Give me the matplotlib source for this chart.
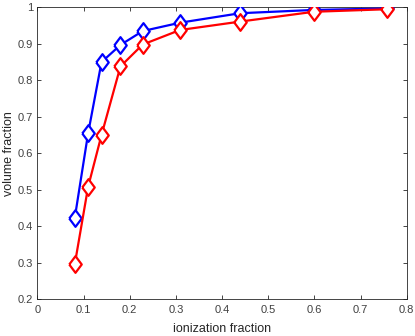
import matplotlib
matplotlib.use("Agg")
import matplotlib.pyplot as plt

x = [0.081, 0.11, 0.139, 0.18, 0.228, 0.309, 0.439, 0.599, 0.758]
blue_y = [0.422, 0.655, 0.850, 0.897, 0.935, 0.958, 0.984, 0.993, 0.997]
red_y = [0.295, 0.508, 0.650, 0.838, 0.898, 0.938, 0.961, 0.988, 0.995]
xticks = [0, 0.1, 0.2, 0.3, 0.4, 0.5, 0.6, 0.7, 0.8]
yticks = [0.2, 0.3, 0.4, 0.5, 0.6, 0.7, 0.8, 0.9, 1.0]
ytick_labels = ["0.2", "0.3", "0.4", "0.5", "0.6", "0.7", "0.8", "0.9", "1"]
xtick_labels = ["0", "0.1", "0.2", "0.3", "0.4", "0.5", "0.6", "0.7", "0.8"]

plt.rcParams['font.family'] = ['Liberation Sans', 'DejaVu Sans']

fig = plt.figure(figsize=(4.15, 3.36), dpi=100)
ax = fig.add_axes([0.09, 0.110, 0.890, 0.868])

diamond = [(-0.75, 0), (0, 1), (0.75, 0), (0, -1), (-0.75, 0)]
ax.plot(x, blue_y, color='#0000ff', lw=1.6, marker=diamond, ms=12,
        mfc='white', mec='#0000ff', mew=1.6, zorder=3)
ax.plot(x, red_y, color='#ff0000', lw=1.6, marker=diamond, ms=12,
        mfc='white', mec='#ff0000', mew=1.6, zorder=4)

ax.set_xlim(0, 0.8)
ax.set_ylim(0.2, 1.0)
ax.set_xticks(xticks)
ax.set_xticklabels(xtick_labels)
ax.set_yticks(yticks)
ax.set_yticklabels(ytick_labels)
ax.tick_params(direction='in', length=3, width=0.6, color='#262626',
               labelcolor='#404040', labelsize=8,
               top=True, right=True, labeltop=False, labelright=False)
ax.tick_params(axis='x', pad=4)
ax.tick_params(axis='y', pad=3)
for s in ax.spines.values():
    s.set_color('#262626')
    s.set_linewidth(0.6)
ax.set_xlabel('ionization fraction', fontsize=9, color='#262626', labelpad=6)
ax.set_ylabel('volume fraction', fontsize=9, color='#262626', labelpad=2)

fig.savefig('out.png', dpi=100)
